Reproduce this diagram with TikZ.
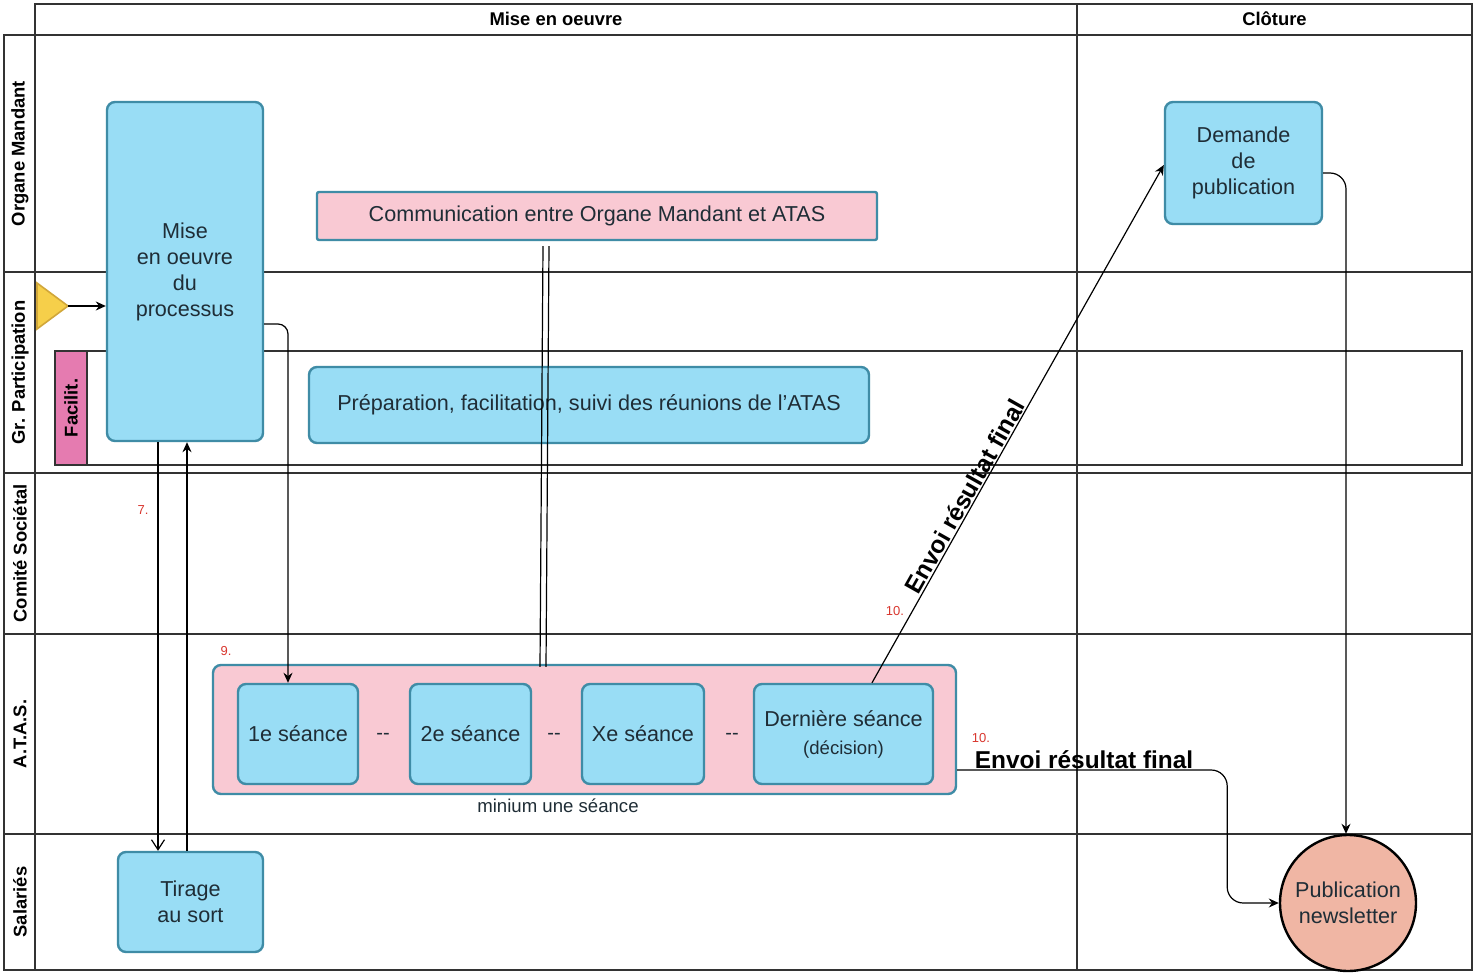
\documentclass[tikz,border=0pt]{standalone}
\usepackage{fontspec}
\setmainfont{Liberation Sans}
\usetikzlibrary{arrows.meta,calc,shapes.geometric}
\definecolor{boxfill}{HTML}{99DDF5}
\definecolor{boxline}{HTML}{3F8CA6}
\definecolor{pinkfill}{HTML}{F9C9D3}
\definecolor{facil}{HTML}{E57BB0}
\definecolor{circfill}{HTML}{F0B6A4}
\definecolor{yel}{HTML}{F6CF4A}
\definecolor{yelline}{HTML}{D1A73A}
\definecolor{redlab}{HTML}{D9372F}
\definecolor{grid}{HTML}{333333}
\definecolor{txt}{HTML}{1F2D36}
\begin{document}
\begin{tikzpicture}[x=0.5pt,y=-0.5pt,
  gridline/.style={draw=grid,line width=0.8pt},
  bluebox/.style={draw=boxline,fill=boxfill,line width=1.2pt,rounded corners=4pt,align=center,inner sep=0pt,text=txt,font=\fontsize{10.8}{13}\selectfont},
  pinkbox/.style={draw=boxline,fill=pinkfill,line width=1.2pt,rounded corners=4pt,align=center,inner sep=0pt,text=txt,font=\fontsize{10.8}{13}\selectfont},
  lanelabel/.style={rotate=90,font=\bfseries\fontsize{9.2}{11}\selectfont,text=black},
  headlabel/.style={font=\bfseries\fontsize{9.2}{11}\selectfont,text=black},
  redlabel/.style={text=redlab,font=\fontsize{6.5}{8}\selectfont,inner sep=0pt},
  conn/.style={draw=black,line width=0.6pt},
  arr/.style={conn,-{Stealth[length=5pt,width=4.5pt]}},
  openarr/.style={conn,-{Straight Barb[length=5pt,width=6.5pt]}},
  biglabel/.style={font=\bfseries\fontsize{12.2}{14}\selectfont,text=black,inner sep=0.5pt}
]
\useasboundingbox (0,0) rectangle (1479,974);
\fill[white] (0,0) rectangle (1479,974);
% grid
\draw[gridline] (35,4) rectangle (1472,35);
\draw[gridline] (4,35) rectangle (1472,970);
\draw[gridline] (35,4) -- (35,970);
\draw[gridline] (1077,4) -- (1077,970);
\foreach \yy in {272,473,634,834} \draw[gridline] (4,\yy) -- (1472,\yy);
\node[headlabel] (h1) at (556,19) {Mise en oeuvre};
\node[headlabel] (h2) at (1274.5,19) {Clôture};
\node[lanelabel] (l1) at (20,153.5) {Organe Mandant};
\node[lanelabel] (l2) at (20,372.5) {Gr. Participation};
\node[lanelabel] (l3) at (20,553.5) {Comité Sociétal};
\node[lanelabel] (l4) at (20,734) {A.T.A.S.};
\node[lanelabel] (l5) at (20,902) {Salariés};
% facilitation pool
\draw[gridline] (55,351) rectangle (1462,465);
\draw[gridline,fill=facil] (55,351) rectangle (87,465);
\node[lanelabel] (fl) at (71,408) {Facilit.};
% start triangle
\draw[fill=yel,draw=yelline,line width=0.8pt] (37,283) -- (68,306) -- (37,329) -- cycle;
\coordinate (tri) at (68,306);
% nodes
\node[bluebox,minimum width=78pt,minimum height=169.5pt] (mise) at (185,271.5) {Mise\\en oeuvre\\du\\processus};
\node[pinkbox,rounded corners=1pt,minimum width=280pt,minimum height=24pt] (comm) at (597,216) {Communication entre Organe Mandant et ATAS};
\node[bluebox,minimum width=280pt,minimum height=38pt] (prep) at (589,405) {Préparation, facilitation, suivi des réunions de l'ATAS};
\node[bluebox,minimum width=78.5pt,minimum height=61pt] (dem) at (1243.5,163) {Demande\\de\\publication};
\node[pinkbox,minimum width=371.5pt,minimum height=64.5pt] (cont) at (584.5,729.5) {};
\node[bluebox,minimum width=60pt,minimum height=50pt] (s1) at (298,734) {1e séance};
\node[bluebox,minimum width=60.5pt,minimum height=50pt] (s2) at (470.5,734) {2e séance};
\node[bluebox,minimum width=61pt,minimum height=50pt] (s3) at (643,734) {Xe séance};
\node[bluebox,minimum width=89.5pt,minimum height=50pt,font=\fontsize{10.8}{14}\selectfont] (s4) at (843.5,734) {Dernière séance\\{\fontsize{9.3}{11}\selectfont (décision)}};
\node[text=txt,font=\fontsize{10}{12}\selectfont] (d1) at (383,736) {-{}-};
\node[text=txt,font=\fontsize{10}{12}\selectfont] (d2) at (554,736) {-{}-};
\node[text=txt,font=\fontsize{10}{12}\selectfont] (d3) at (732,736) {-{}-};
\node[text=txt,font=\fontsize{9.3}{11}\selectfont] (minl) at (558,806) {minium une séance};
\node[bluebox,minimum width=72.5pt,minimum height=50pt] (tir) at (190.5,902) {Tirage\\au sort};
\node[circle,draw=black,fill=circfill,line width=1.2pt,minimum size=68pt,inner sep=0pt,align=center,text=txt,font=\fontsize{10.8}{13}\selectfont] (pub) at (1348,903) {Publication\\newsletter};
% red labels
\node[redlabel] (r7) at (143,510) {7.};
\node[redlabel] (r9) at (226,651) {9.};
\node[redlabel] (r10a) at (895,611) {10.};
\node[redlabel] (r10b) at (981,738) {10.};
% connectors
\draw[arr] (tri) -- (tri -| mise.west);
\draw[arr,rounded corners=5pt] ([yshift=-26.25pt]mise.east) -| ([xshift=-5pt]s1.north);
\coordinate (m1) at ([xshift=-13.5pt]mise.south);
\draw[openarr] (m1) -- (m1 |- tir.north);
\coordinate (t1) at ([xshift=-1.75pt]tir.north);
\draw[arr] (t1) -- (t1 |- mise.south);
\coordinate (ca) at ([xshift=-27pt,yshift=-2.5pt]comm.south);
\coordinate (cb) at ([xshift=-24pt,yshift=-2.5pt]comm.south);
\coordinate (ka) at ([xshift=-22.25pt,yshift=-1.5pt]cont.north);
\coordinate (kb) at ([xshift=-19.25pt,yshift=-1.5pt]cont.north);
\draw[conn] (ca) -- (ka);
\draw[conn] (cb) -- (kb);
\draw[arr] ([xshift=14.25pt]s4.north) -- node[biglabel,sloped,above,pos=0.35] {Envoi résultat final} ([yshift=-1pt]dem.west);
\draw[arr,rounded corners=8pt] ([yshift=-20.25pt]cont.east) -- node[biglabel,above,pos=0.47] {Envoi résultat final} ++(135pt,0) |- (pub.west);
\draw[arr,rounded corners=8pt] ([yshift=-5pt]dem.east) -| ([xshift=-1pt]pub.north);
\end{tikzpicture}
\end{document}
